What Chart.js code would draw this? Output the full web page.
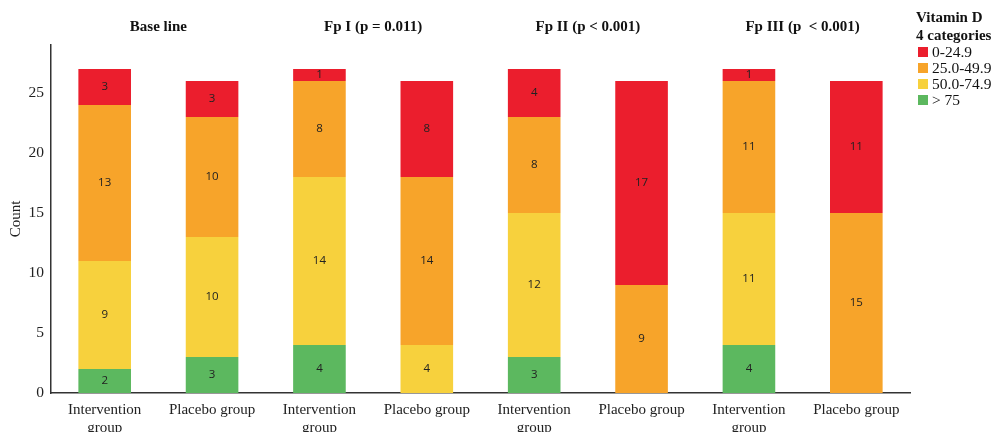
<!DOCTYPE html>
<html>
<head>
<meta charset="utf-8">
<style>
  html, body { margin: 0; padding: 0; background: #fff; }
  #wrap { width: 999px; height: 432px; }
</style>
<script src="https://cdn.jsdelivr.net/npm/chart.js@4"></script>
</head>
<body>
<div id="wrap"><canvas id="myChart" width="999" height="432"></canvas></div>
<script>
// categories (two-line labels)
const labels = [
  ['Intervention', 'group'], 'Placebo group',
  ['Intervention', 'group'], 'Placebo group',
  ['Intervention', 'group'], 'Placebo group',
  ['Intervention', 'group'], 'Placebo group'
];
const groupTitles = ['Base line', 'Fp I (p = 0.011)', 'Fp II (p < 0.001)', 'Fp III (p  < 0.001)'];

// counts per vitamin D category
const over75 = [2, 3, 4, 0, 3, 0, 4, 0];
const from50 = [9, 10, 14, 4, 12, 0, 11, 0];
const from25 = [13, 10, 8, 14, 8, 9, 11, 15];
const below25 = [3, 3, 1, 8, 4, 17, 1, 11];

const seriesNames = ['> 75', '50.0-74.9', '25.0-49.9', '0-24.9'];
const colors = ['#5cb85f', '#f7d13d', '#f7a42a', '#eb1e2d'];

const serif = '"Liberation Serif", "Times New Roman", serif';

// group titles, value labels and legend
const extras = {
    id: 'extras',
    afterDatasetsDraw(chart) {
        const c = chart.ctx;
        const x = chart.scales.x;
        c.save();
        // values inside the segments
        c.font = '11.5px "Open Sans", sans-serif';
        c.fillStyle = '#222';
        c.textAlign = 'center';
        c.textBaseline = 'middle';
        chart.data.datasets.forEach((ds, i) => {
            chart.getDatasetMeta(i).data.forEach((bar, j) => {
                if (!ds.data[j]) return;
                c.fillText(String(ds.data[j]), bar.x, (bar.y + bar.base) / 2);
            });
        });
        // group titles
        c.font = 'bold 15px ' + serif;
        c.fillStyle = '#111';
        groupTitles.forEach((t, g) => {
            const cx = (x.getPixelForValue(2 * g) + x.getPixelForValue(2 * g + 1)) / 2;
            c.fillText(t, cx, 27);
        });
        // legend
        c.textAlign = 'left';
        c.fillText('Vitamin D', 916, 18);
        c.fillText('4 categories', 916, 36);
        c.font = '15.5px ' + serif;
        const order = [3, 2, 1, 0];
        order.forEach((k, n) => {
            const y = 52 + n * 16;
            c.fillStyle = colors[k];
            c.fillRect(918, y - 5, 10, 10);
            c.fillStyle = '#111';
            c.fillText(seriesNames[k], 932, y + 1);
        });
        c.restore();
    }
};

const ctx = document.getElementById('myChart').getContext('2d');

const myChart = new Chart(ctx, {
    type: 'bar',
    data: {
        labels: labels,
        datasets: [over75, from50, from25, below25].map((d, i) => ({
            label: seriesNames[i],
            data: d,
            backgroundColor: colors[i],
            borderWidth: 0,
            categoryPercentage: 1,
            barPercentage: 0.49
        }))
    },
    options: {
        responsive: false,
        animation: false,
        layout: { padding: { top: 45, right: 89, left: 0, bottom: 0 } },
        plugins: {
            legend: { display: false },
            tooltip: { enabled: false }
        },
        scales: {
            x: {
                stacked: true,
                grid: { display: false, drawTicks: false },
                border: { color: '#333', width: 1.5 },
                ticks: {
                    color: '#222',
                    font: { family: serif, size: 15 },
                    padding: 8,
                    maxRotation: 0,
                    autoSkip: false
                },
                afterFit(scale) { scale.height = 39; }
            },
            y: {
                stacked: true,
                min: 0,
                max: 29,
                grid: { display: false, drawTicks: false },
                border: { color: '#333', width: 1.5 },
                ticks: {
                    stepSize: 5,
                    color: '#222',
                    font: { family: serif, size: 15.5 },
                    padding: 7,
                    callback: v => (v % 5 === 0 && v <= 25) ? v : ''
                },
                title: {
                    display: true,
                    text: 'Count',
                    color: '#222',
                    font: { family: serif, size: 15 },
                    padding: { top: 7, bottom: 0 }
                },
                afterFit(scale) { scale.width = 51; }
            }
        }
    },
    plugins: [extras]
});
</script>
</body>
</html>
